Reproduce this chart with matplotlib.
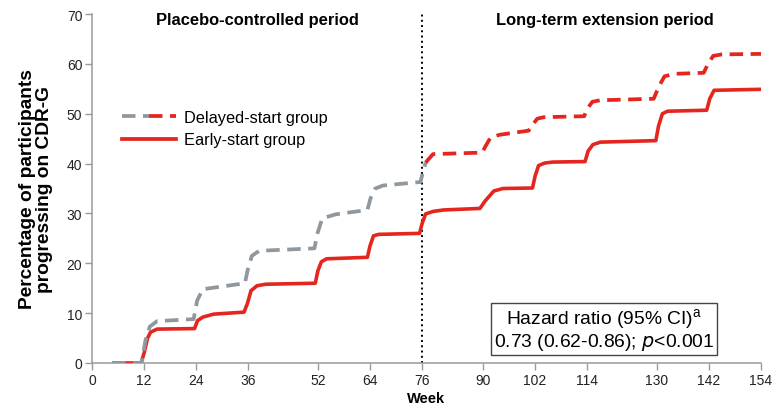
import matplotlib
matplotlib.use("Agg")
import matplotlib.pyplot as plt
from matplotlib.lines import Line2D
from matplotlib.legend_handler import HandlerTuple

plt.rcParams["font.family"] = ["Liberation Sans", "DejaVu Sans"]

# Cumulative progression curves (week, % of participants progressing on CDR-G)
delayed_weeks = [4.6, 11.4, 12.3, 13.3, 15, 23.4, 24.2, 25.5, 35.2, 35.8, 36.8, 38.5,
                 51.2, 51.9, 53.0, 56, 63.4, 64.1, 65.2, 67, 75.6, 76.1, 76.8, 78.5,
                 89.8, 90.6, 91.8, 94, 100.5, 101.6, 102.5, 104, 113.3, 114.0, 115.2,
                 117, 129.3, 130.5, 131.8, 134, 140.8, 141.8, 143.0, 145, 154.2]
delayed_pct = [0, 0, 4.5, 7.3, 8.4, 8.8, 12.5, 14.8, 16.0, 18.5, 21.5, 22.5,
               23.0, 26, 29.0, 29.8, 30.7, 33, 35.0, 35.6, 36.3, 38, 40.2, 41.9,
               42.2, 43.5, 45.3, 45.8, 46.6, 48, 49.0, 49.3, 49.5, 51, 52.4,
               52.7, 53.0, 55.5, 57.5, 58.0, 58.2, 60, 61.6, 61.9, 62.0]

early_weeks = [4.6, 11.3, 12.0, 12.8, 13.5, 15, 23.6, 24.3, 25.5, 28, 35.0, 35.8,
               36.6, 38.0, 40, 51.4, 52.0, 52.8, 54, 63.4, 64.0, 64.8, 66, 75.4,
               76.0, 76.8, 78.5, 81, 89.3, 90.5, 92.5, 94.6, 101.4, 102.0, 102.8,
               104.2, 106, 113.5, 114.2, 115.3, 117, 129.8, 130.4, 131.3, 132.5,
               141.5, 142.2, 143.2, 154.2]
early_pct = [0, 0, 2, 5.0, 6.2, 6.8, 6.9, 8.5, 9.2, 9.8, 10.2, 12,
             14.5, 15.5, 15.8, 16.0, 18.5, 20.3, 20.9, 21.2, 23.5, 25.5, 25.8, 26.0,
             28, 29.9, 30.4, 30.7, 31.0, 32.5, 34.5, 35.0, 35.1, 37.5, 39.6,
             40.1, 40.3, 40.4, 42.5, 43.8, 44.3, 44.6, 47.5, 50.0, 50.5,
             50.7, 53, 54.7, 54.9]

x_ticks = [0, 12, 24, 36, 52, 64, 76, 90, 102, 114, 130, 142, 154]
y_ticks = [0, 10, 20, 30, 40, 50, 60, 70]
switch_week = 76
period_labels = ["Placebo-controlled period", "Long-term extension period"]
series_labels = ["Delayed-start group", "Early-start group"]

RED = "#e5261e"
GRAY = "#8f989f"
AXIS = "#9a9a9a"

fig = plt.figure(figsize=(7.77, 4.10), dpi=100)
ax = fig.add_axes([0.1184, 0.1122, 0.861, 0.8512])

# Early-start group (solid red)
ax.plot(early_weeks, early_pct, color=RED, lw=2.6, solid_capstyle="butt", zorder=3)

# Delayed-start group: gray during placebo period, red after switching
split = 23  # index of the point at the switch (week 76.8)
dash = (3.6, 2.0)
ax.plot(delayed_weeks[:split], delayed_pct[:split], color=GRAY, lw=2.7,
        dashes=dash, zorder=4)
ax.plot(delayed_weeks[split - 1:], delayed_pct[split - 1:], color=RED, lw=2.7,
        dashes=dash, zorder=4)

# Boundary between study periods
ax.axvline(switch_week, color="black", lw=1.4, ls=(0, (1, 1.7)), zorder=2)

ax.set_xlim(0, 154)
ax.set_ylim(0, 70)
ax.set_xticks(x_ticks)
ax.set_yticks(y_ticks)
ax.tick_params(axis="both", colors="#222222", labelsize=10, length=5,
               width=1, direction="out", color=AXIS, pad=2)
for side in ("top", "right"):
    ax.spines[side].set_visible(False)
for side in ("left", "bottom"):
    ax.spines[side].set_color(AXIS)
    ax.spines[side].set_linewidth(1.1)

ax.set_xlabel("Week", fontsize=10.5, fontweight="bold", labelpad=3)
ax.set_ylabel("Percentage of participants\nprogressing on CDR-G",
              fontsize=13.8, fontweight="bold", labelpad=10, linespacing=1.0)

ax.text(38, 68.9, period_labels[0], ha="center", va="center",
        fontsize=11.9, fontweight="bold")
ax.text(118, 68.9, period_labels[1], ha="center", va="center",
        fontsize=11.9, fontweight="bold")

# Legend with a two-colour dashed handle for the delayed-start group
h_gray = Line2D([], [], color=GRAY, lw=2.7, dashes=dash)
h_red = Line2D([], [], color=RED, lw=2.7, dashes=dash)
h_early = Line2D([], [], color=RED, lw=2.7)
ax.legend([(h_gray, h_red), h_early], series_labels,
          handler_map={tuple: HandlerTuple(ndivide=2, pad=0)},
          loc="upper left", bbox_to_anchor=(0.045, 0.725), frameon=False,
          fontsize=11.8, handlelength=3.3, handletextpad=0.5,
          labelspacing=0.45, borderpad=0, borderaxespad=0)

ax.text(117.8, 6.8, "Hazard ratio (95% CI)$^{\\mathregular{a}}$\n"
        "0.73 (0.62-0.86); $\\mathit{p}$<0.001",
        ha="center", va="center", fontsize=13.9, linespacing=1.0,
        bbox=dict(boxstyle="square,pad=0.14", fc="white", ec="#444444", lw=1))

fig.savefig("out.png", dpi=100)
